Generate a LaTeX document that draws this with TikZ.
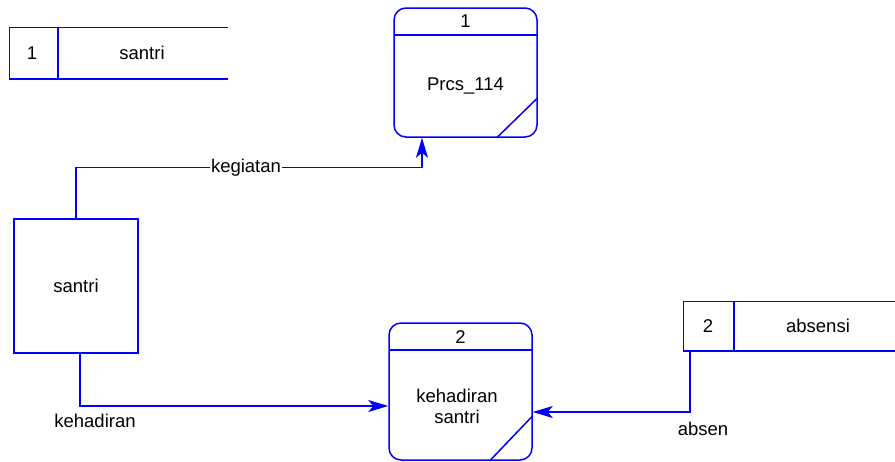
\documentclass[tikz,border=0pt]{standalone}
\usepackage{fontspec}
\setmainfont{Liberation Sans}
\usetikzlibrary{arrows.meta,calc}
\begin{document}
\begin{tikzpicture}[x=1pt,y=-1pt,
  line width=1.5pt,
  every node/.style={font=\fontsize{18.5}{21}\selectfont, text=black},
  proc/.style={draw=blue, rounded corners=12pt, inner sep=0pt},
  ent/.style={draw=blue, inner sep=0pt, minimum width=124pt, minimum height=134pt},
  store/.style={inner sep=0pt},
  flow/.style={draw=blue, -{Stealth[length=20pt,width=12pt,inset=5pt]}},
  lbl/.style={fill=white, inner sep=1pt}]
\useasboundingbox (0,0) rectangle (895,461);
% processes
\node[proc, minimum width=143pt, minimum height=129pt] (p1) at (465.5,72.5) {};
\draw[blue] (394,35) -- (537,35);
\draw[blue] ([xshift=-41pt]p1.south east) -- ([yshift=40pt]p1.south east);
\node (p1n) at (465.5,21) {1};
\node (p1t) at (465.5,86) {Prcs\_114};
\node[proc, minimum width=143pt, minimum height=137pt] (p2) at (460.5,391.5) {};
\draw[blue] (389,350) -- (532,350);
\draw[blue] ([xshift=-43pt]p2.south east) -- ([yshift=45pt]p2.south east);
\node (p2n) at (460.5,337) {2};
\node[align=center] (p2t) at (457,406) {kehadiran\\santri};
% entity
\node[ent] (ent) at (76,286) {santri};
% data stores
\node[store, minimum width=217pt, minimum height=50pt] (ds1) at (118.5,53) {};
\draw[blue] (ds1.north east) -- (ds1.north west) -- (ds1.south west) -- (ds1.south east);
\draw[blue] (58,28) -- (58,78);
\node (ds1n) at (32,53) {1};
\node (ds1t) at (142,53) {santri};
\node[store, minimum width=211pt, minimum height=48pt] (ds2) at (789.5,326) {};
\draw[blue] (ds2.north east) -- (ds2.north west) -- (ds2.south west) -- (ds2.south east);
\draw[blue] (734,302) -- (734,350);
\node (ds2n) at (708,326) {2};
\node (ds2t) at (818,326) {absensi};
% flows
\draw[flow] (ent.north) -- ++(0,-51) -| ([xshift=-43.5pt]p1.south);
\node[lbl] (lk) at (246,168) {kegiatan};
\draw[flow] ([xshift=4pt]ent.south) |- ([yshift=-14.5pt]p2.west);
\node (lh) at (95,421) {kehadiran};
\draw[flow] ([xshift=-99.5pt]ds2.south) |- ([yshift=-20.5pt]p2.east);
\node (la) at (703,429) {absen};
\end{tikzpicture}
\end{document}
